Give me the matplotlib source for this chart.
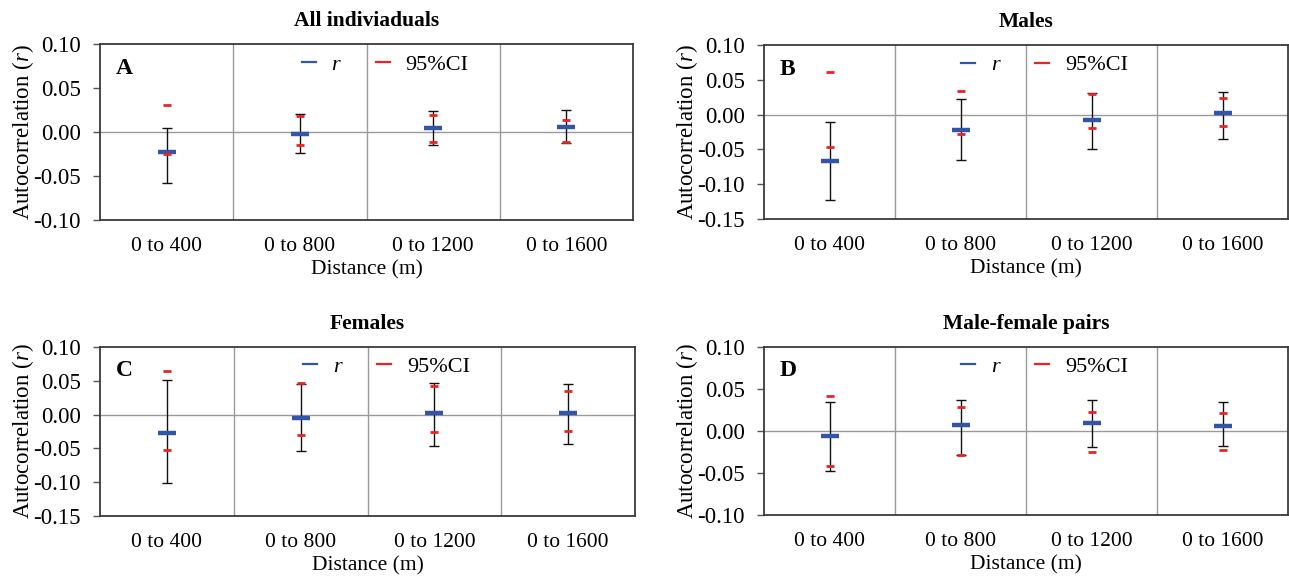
import matplotlib
matplotlib.use('Agg')
import matplotlib.pyplot as plt
import numpy as np
from matplotlib.ticker import FuncFormatter
from matplotlib.lines import Line2D

plt.rcParams['font.family'] = ['Liberation Serif', 'DejaVu Serif']
plt.rcParams['mathtext.fontset'] = 'custom'
plt.rcParams['mathtext.rm'] = 'Liberation Serif'
plt.rcParams['mathtext.it'] = 'Liberation Serif:italic'
plt.rcParams['axes.unicode_minus'] = False

# ---------------- data ----------------
categories = ['0 to 400', '0 to 800', '0 to 1200', '0 to 1600']
titles = ['All indiviaduals', 'Males', 'Females', 'Male-female pairs']
letters = ['A', 'B', 'C', 'D']

# A: all individuals
r_A = [-0.023, -0.002, 0.004, 0.006]
ci_up_A = [0.031, 0.018, 0.019, 0.014]
ci_lo_A = [-0.025, -0.015, -0.011, -0.011]
err_hi_A = [0.005, 0.020, 0.024, 0.025]
err_lo_A = [-0.058, -0.024, -0.015, -0.013]

# B: males
r_B = [-0.067, -0.022, -0.008, 0.002]
ci_up_B = [0.061, 0.034, 0.030, 0.024]
ci_lo_B = [-0.047, -0.028, -0.019, -0.017]
err_hi_B = [-0.011, 0.022, 0.031, 0.033]
err_lo_B = [-0.122, -0.065, -0.050, -0.035]

# C: females
r_C = [-0.027, -0.005, 0.002, 0.002]
ci_up_C = [0.065, 0.047, 0.042, 0.035]
ci_lo_C = [-0.053, -0.030, -0.026, -0.024]
err_hi_C = [0.051, 0.045, 0.047, 0.045]
err_lo_C = [-0.101, -0.054, -0.046, -0.044]

# D: male-female pairs
r_D = [-0.006, 0.007, 0.0095, 0.006]
ci_up_D = [0.042, 0.029, 0.023, 0.021]
ci_lo_D = [-0.042, -0.029, -0.025, -0.023]
err_hi_D = [0.034, 0.037, 0.037, 0.034]
err_lo_D = [-0.048, -0.028, -0.019, -0.018]

ylims = [(-0.10, 0.10), (-0.15, 0.10), (-0.15, 0.10), (-0.10, 0.10)]

panels = [
    (r_A, ci_up_A, ci_lo_A, err_hi_A, err_lo_A),
    (r_B, ci_up_B, ci_lo_B, err_hi_B, err_lo_B),
    (r_C, ci_up_C, ci_lo_C, err_hi_C, err_lo_C),
    (r_D, ci_up_D, ci_lo_D, err_hi_D, err_lo_D),
]

# ---------------- layout ----------------
W, H = 1289, 579
fig = plt.figure(figsize=(W / 100, H / 100), dpi=100)

def rect(l, r, t, b):
    return [l / W, 1 - b / H, (r - l) / W, (b - t) / H]

rects = [rect(100, 633, 44, 220), rect(764, 1288, 45, 219),
         rect(100, 635, 347, 516), rect(764, 1288, 347, 515)]

blue = '#3355a8'
red = '#ee2222'
gridc = '#9a9a9a'

for i, (data, rc) in enumerate(zip(panels, rects)):
    r, cu, cl, eh, el = [np.array(d) for d in data]
    ax = fig.add_axes(rc)
    x = np.arange(len(categories))
    ax.set_xlim(-0.5, len(categories) - 0.5)
    lo, hi = ylims[i]
    ax.set_ylim(lo, hi)
    ax.set_yticks(np.round(np.arange(lo, hi + 1e-9, 0.05), 2))
    ax.yaxis.set_major_formatter(FuncFormatter(lambda v, p: f"{v:.2f}"))
    ax.set_xticks(x)
    ax.set_xticklabels(categories)
    ax.tick_params(axis='x', length=0, pad=12, labelsize=15.5)
    ax.tick_params(axis='y', length=5, width=1, color='#555555', pad=9, labelsize=16.5)

    for b in np.arange(0.5, len(categories) - 1, 1.0):
        ax.axvline(b, color=gridc, lw=1, zorder=1)
    ax.axhline(0, color=gridc, lw=1, zorder=1)

    ax.errorbar(x, r, yerr=[r - el, eh - r], fmt='none', ecolor='#111111',
                elinewidth=1, capsize=3.5, capthick=1, zorder=2)
    ax.plot(x, r, linestyle='none', marker='_', markersize=13, mew=3.2,
            color=blue, zorder=3)
    ax.plot(x, cu, linestyle='none', marker='_', markersize=6, mew=2,
            color=red, zorder=4)
    ax.plot(x, cl, linestyle='none', marker='_', markersize=6, mew=2,
            color=red, zorder=4)

    for s in ax.spines.values():
        s.set_color('#3a3a3a')
        s.set_linewidth(1.3)

    ax.set_title(titles[i], fontsize=15.5, fontweight='bold', pad=13)
    ax.set_xlabel('Distance (m)', fontsize=15.5, labelpad=3)
    ax.set_ylabel('Autocorrelation ($\\mathit{r}$)', fontsize=16.5, labelpad=-2)
    ax.text(0.03, 0.86, letters[i], transform=ax.transAxes, fontsize=17,
            fontweight='bold', va='center', ha='left')

    handles = [Line2D([], [], color=blue, lw=1.6),
               Line2D([], [], color=red, lw=1.6)]
    leg = ax.legend(handles, ['r', '95%CI'], loc='center',
                    bbox_to_anchor=(0.535, 0.885), ncol=2, frameon=False,
                    fontsize=16, handlelength=0.65, handletextpad=0.7,
                    columnspacing=1.6)
    leg.get_texts()[0].set_style('italic')

fig.savefig('out.png', dpi=100)
